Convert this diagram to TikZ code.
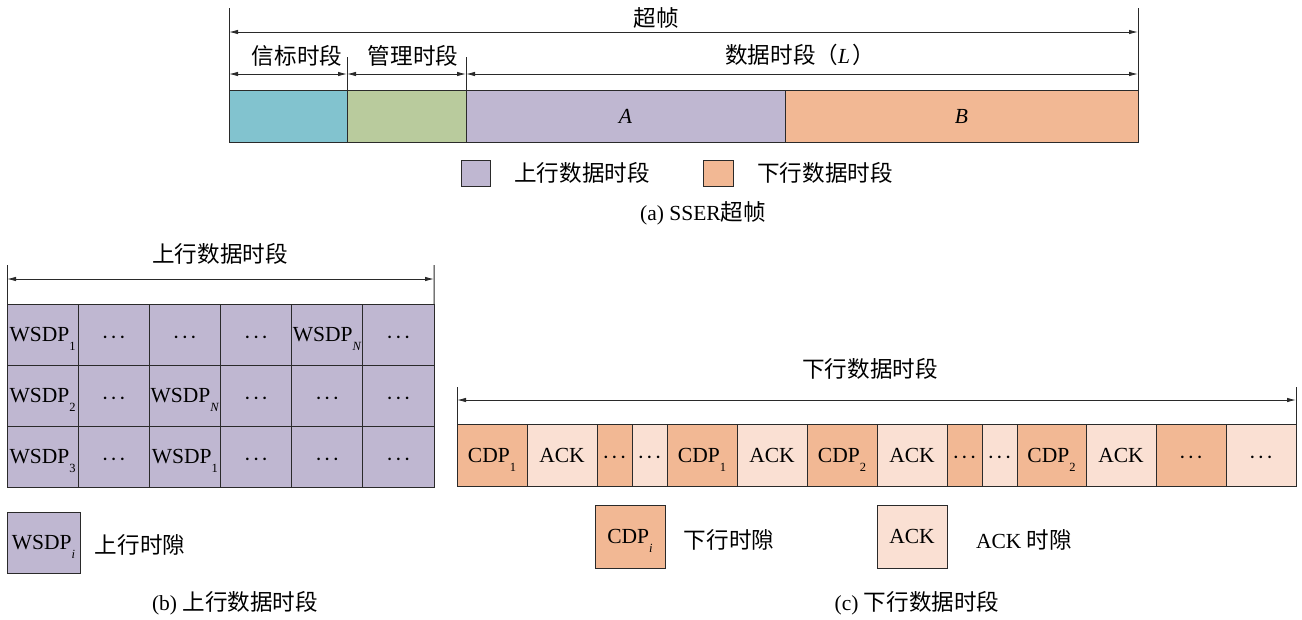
\documentclass[tikz,border=0pt]{standalone}
\usepackage{fontspec}
\setmainfont{Liberation Serif}
\newfontfamily\cjk[Scale=1.05]{Noto Sans CJK SC}
\usetikzlibrary{arrows.meta}
\newcommand\zh[1]{{\cjk #1}}
\newcommand\sbs[1]{\raisebox{-0.42em}[0pt][0pt]{\fontsize{12.5}{12.5}\selectfont #1}}
\newcommand\dts{\raisebox{-0.45em}[0pt][0pt]{\textperiodcentered\kern1.5pt\textperiodcentered\kern1.5pt\textperiodcentered}}
\definecolor{cyanc}{HTML}{82C3CF}
\definecolor{greenc}{HTML}{B9CB9D}
\definecolor{purp}{HTML}{BFB7D1}
\definecolor{orng}{HTML}{F2B894}
\definecolor{lorng}{HTML}{FAE0D3}
\definecolor{ln}{HTML}{2A2A2A}
\begin{document}
\begin{tikzpicture}[x=1pt,y=-1pt,
  every node/.style={font=\fontsize{21.5}{24}\selectfont, inner sep=0pt, outer sep=0pt},
  box/.style={draw=ln, line width=1pt, minimum height=52pt},
  cell/.style={draw=ln, line width=1pt, minimum height=61pt, minimum width=71.17pt},
  dcell/.style={draw=ln, line width=1pt, minimum height=62pt},
  leg/.style={draw=ln, line width=1pt},
  dimarr/.style={draw=ln, line width=0.9pt, {Latex[length=9pt,width=4.5pt]}-{Latex[length=9pt,width=4.5pt]}},
  vline/.style={draw=ln, line width=1pt},
  lbl/.style={anchor=center}]
\useasboundingbox (0,0) rectangle (1302,619);

% ---------- (a) ----------
\node[box, fill=cyanc, minimum width=118pt] (bea) at (288,116) {};
\node[box, fill=greenc, minimum width=119pt] (mgmt) at (406.5,116) {};
\node[box, fill=purp, minimum width=319pt] (A) at (625.5,116) {\textit{A}};
\node[box, fill=orng, minimum width=353pt] (B) at (961.5,116) {\textit{B}};

\coordinate (tl) at (229,8);
\coordinate (tr) at (1138,8);
\draw[vline] (tl) -- (bea.south west);
\draw[vline] (tr) -- (B.south east);
\coordinate (t1) at (347,57);
\coordinate (t2) at (466,57);
\draw[vline] (t1) -- (mgmt.north west);
\draw[vline] (t2) -- (A.north west);

\coordinate (sfl) at (229,32);
\coordinate (sfr) at (1138,32);
\draw[dimarr] (sfl) -- (sfr);
\node[lbl] (sf) at (656,18) {\zh{超帧}};

\coordinate (m0) at (229,74);
\coordinate (m1) at (347,74);
\coordinate (m2) at (466,74);
\coordinate (m3) at (1138,74);
\draw[dimarr] (m0) -- (m1);
\draw[dimarr] (m1) -- (m2);
\draw[dimarr] (m2) -- (m3);
\node[lbl] (lb1) at (297,56) {\zh{信标时段}};
\node[lbl] (lb2) at (413,56) {\zh{管理时段}};
\node[lbl] (lb3) at (800,55) {\zh{数据时段（}\textit{L}\kern2pt\zh{）}};

\node[leg, fill=purp, minimum width=29pt, minimum height=26pt] (lgu) at (475.5,173) {};
\node[lbl] (lgut) at (582,173) {\zh{上行数据时段}};
\node[leg, fill=orng, minimum width=30pt, minimum height=26pt] (lgd) at (718,173) {};
\node[lbl] (lgdt) at (825,173) {\zh{下行数据时段}};
\node[lbl] (capa) at (703,213) {(a) SSER\zh{超帧}};

% ---------- (b) ----------
\node[lbl] (bt) at (220,254) {\zh{上行数据时段}};
\coordinate (bl) at (7,265);
\coordinate (br) at (434,265);
\coordinate (bal) at (7,279);
\coordinate (bar) at (434,279);
\draw[dimarr] (bal) -- (bar);
\foreach \r/\row in {1/{WSDP\sbs{1},\dts,\dts,\dts,WSDP\sbs{\textit{N}},\dts},
                     2/{WSDP\sbs{2},\dts,WSDP\sbs{\textit{N}},\dts,\dts,\dts},
                     3/{WSDP\sbs{3},\dts,WSDP\sbs{1},\dts,\dts,\dts}} {
  \foreach \t [count=\c] in \row {
    \node[cell, fill=purp] (g-\r-\c) at ({7+71.17*(\c-0.5)},{304+61*(\r-0.5)}) {\t};
  }
}
\draw[vline] (bl) -- (g-1-1.north west);
\draw[vline] (br) -- (g-1-6.north east);
\node[leg, fill=purp, minimum width=73pt, minimum height=61pt] (lgw) at (43.5,542.5) {WSDP\sbs{\textit{i}}};
\node[lbl] (lgwt) at (140,545) {\zh{上行时隙}};
\node[lbl] (capb) at (235,603) {(b) \zh{上行数据时段}};

% ---------- (c) ----------
\node[lbl] (ct) at (870,369) {\zh{下行数据时段}};
\coordinate (cl) at (457,387);
\coordinate (cr) at (1296,387);
\coordinate (cal) at (457,400);
\coordinate (car) at (1296,400);
\draw[dimarr] (cal) -- (car);
\foreach \a/\b/\f/\t [count=\k] in {
  457/527/orng/{CDP\sbs{1}}, 527/597/lorng/ACK, 597/632/orng/\dts, 632/667/lorng/\dts,
  667/737/orng/{CDP\sbs{1}}, 737/807/lorng/ACK, 807/877/orng/{CDP\sbs{2}}, 877/947/lorng/ACK,
  947/982/orng/\dts, 982/1017/lorng/\dts, 1017/1086/orng/{CDP\sbs{2}}, 1086/1156/lorng/ACK,
  1156/1226/orng/\dts, 1226/1296/lorng/\dts} {
  \node[dcell, fill=\f, minimum width={\b-\a}] (d-\k) at ({(\a+\b)/2},455) {\t};
}
\draw[vline] (cl) -- (d-1.north west);
\draw[vline] (cr) -- (d-14.north east);
\node[leg, fill=orng, minimum width=70pt, minimum height=63pt] (lgc) at (630,536.5) {CDP\sbs{\textit{i}}};
\node[lbl] (lgct) at (729,540) {\zh{下行时隙}};
\node[leg, fill=lorng, minimum width=70pt, minimum height=63pt] (lga) at (912,536.5) {ACK};
\node[lbl] (lgat) at (1024,540) {ACK \zh{时隙}};
\node[lbl] (capc) at (917,603) {(c) \zh{下行数据时段}};
\end{tikzpicture}
\end{document}
